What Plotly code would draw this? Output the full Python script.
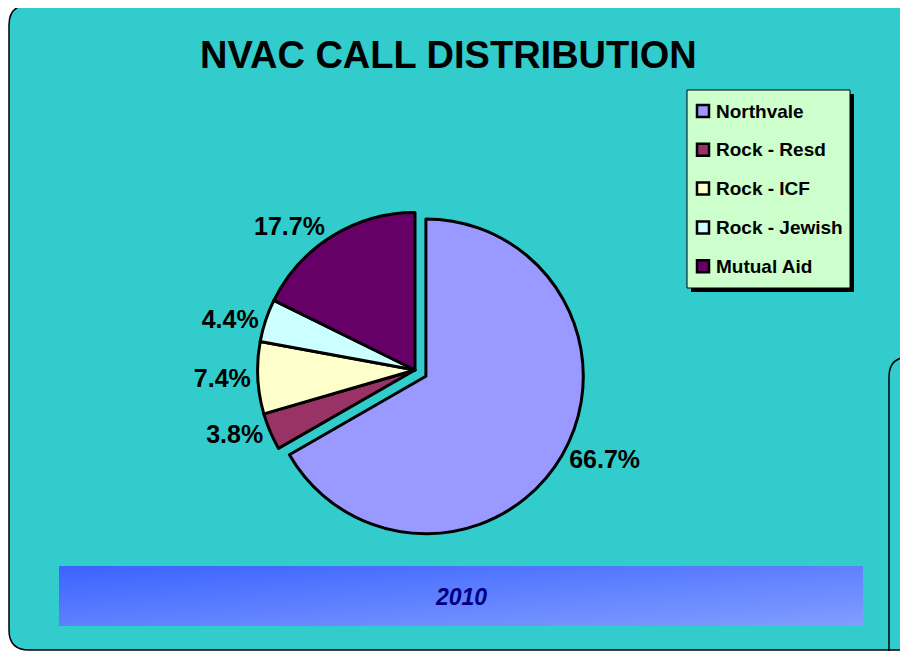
import base64
import plotly.graph_objects as go

# ---- data ----
categories = ["Northvale", "Rock - Resd", "Rock - ICF", "Rock - Jewish", "Mutual Aid"]
values = [66.7, 3.8, 7.4, 4.4, 17.7]
colors = ["#9999FF", "#993366", "#FFFFCC", "#CCFFFF", "#660066"]
pulls = [0.08, 0, 0, 0, 0]
title_text = "NVAC CALL DISTRIBUTION"
year_text = "2010"

# the page body has an 8px margin, so the figure is drawn at (8, 8)
OFF = 8
W, H = 908 - OFF, 651 - OFF


def px(x):
    return (x - OFF) / W


def py(y):
    return 1 - (y - OFF) / H


def P(x, y):
    return f"{px(x):.5f},{py(y):.5f}"


fig = go.Figure()

fig.add_trace(go.Pie(
    labels=categories,
    values=values,
    sort=False,
    direction="clockwise",
    rotation=0,
    pull=pulls,
    marker=dict(colors=colors, line=dict(color="black", width=3)),
    texttemplate="%{value:.1f}%",
    textposition="outside",
    textfont=dict(family="Liberation Sans, Arial", size=25, color="black", weight="bold"),
    domain=dict(x=[px(245), px(585)], y=[py(540), py(200)]),
    showlegend=False,
    hoverinfo="label+percent",
))

shapes = []
# main rounded panel
r = 20
panel = (f"M {P(9 + r, 5)} L {P(940, 5)} L {P(940, 650)} L {P(9 + r, 650)} "
         f"Q {P(9, 650)} {P(9, 650 - r)} L {P(9, 5 + r)} Q {P(9, 5)} {P(9 + r, 5)} Z")
shapes.append(dict(type="path", xref="paper", yref="paper", path=panel,
                   fillcolor="#33CCCC", line=dict(color="black", width=1.5), layer="below"))
# edge of neighbouring panel on the right
edge = f"M {P(889, 700)} L {P(889, 357 + r)} Q {P(889, 357)} {P(889 + r, 357)} L {P(940, 357)}"
shapes.append(dict(type="path", xref="paper", yref="paper", path=edge,
                   line=dict(color="black", width=1.5), layer="above"))

# legend box with shadow
lx0, ly0, lx1, ly1 = 687, 90, 850, 288
shapes.append(dict(type="rect", xref="paper", yref="paper",
                   x0=px(lx0 + 4), x1=px(lx1 + 4), y0=py(ly1 + 4), y1=py(ly0 + 4),
                   fillcolor="black", line=dict(width=0), layer="above"))
shapes.append(dict(type="rect", xref="paper", yref="paper",
                   x0=px(lx0), x1=px(lx1), y0=py(ly1), y1=py(ly0),
                   fillcolor="#CCFFCC", line=dict(color="black", width=1), layer="above"))

annotations = []
row_y0, row_step = 111, 38.8
for i, (cat, col) in enumerate(zip(categories, colors)):
    yc = row_y0 + i * row_step
    shapes.append(dict(type="rect", xref="paper", yref="paper",
                       x0=px(697), x1=px(709), y0=py(yc + 6), y1=py(yc - 6),
                       fillcolor=col, line=dict(color="black", width=2.5), layer="above"))
    annotations.append(dict(x=px(714), y=py(yc), xref="paper", yref="paper",
                            xanchor="left", yanchor="middle", showarrow=False,
                            text=cat,
                            font=dict(family="Liberation Sans, Arial", size=19,
                                      color="black", weight="bold")))

# title
annotations.append(dict(x=px(448), y=py(55), xref="paper", yref="paper",
                        xanchor="center", yanchor="middle", showarrow=False,
                        text=title_text,
                        font=dict(family="Liberation Sans, Arial",
                                  size=38, color="black", weight="bold")))

# banner with gradient
svg = ('<svg xmlns="http://www.w3.org/2000/svg" width="804" height="60" viewBox="0 0 804 60" '
       'preserveAspectRatio="none"><defs><linearGradient id="g" x1="0" y1="0" x2="1" y2="1">'
       '<stop offset="0" stop-color="#3B63FF"/><stop offset="1" stop-color="#829EFF"/>'
       '</linearGradient></defs><rect width="804" height="60" fill="url(#g)"/></svg>')
src = "data:image/svg+xml;base64," + base64.b64encode(svg.encode()).decode()
images = [dict(source=src, xref="paper", yref="paper", x=px(59), y=py(566),
               sizex=px(863) - px(59), sizey=py(566) - py(626),
               xanchor="left", yanchor="top", sizing="stretch", layer="above")]

annotations.append(dict(x=px(461), y=py(597), xref="paper", yref="paper",
                        xanchor="center", yanchor="middle", showarrow=False,
                        text=f"<i>{year_text}</i>",
                        font=dict(family="Liberation Sans, Arial",
                                  size=23, color="#000080", weight="bold")))

fig.update_layout(
    width=W, height=H,
    margin=dict(l=0, r=0, t=0, b=0),
    paper_bgcolor="white",
    plot_bgcolor="white",
    shapes=shapes,
    annotations=annotations,
    images=images,
    showlegend=False,
)

fig.write_html("out.html")
